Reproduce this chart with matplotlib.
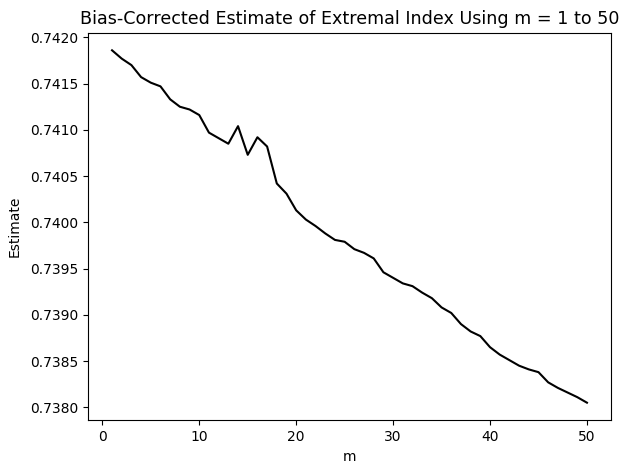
import numpy as np
import matplotlib
matplotlib.use("Agg")
import matplotlib.pyplot as plt

m = np.arange(1, 51)
estimate = [0.74186, 0.74177, 0.74170, 0.74157, 0.74151, 0.74147, 0.74133, 0.74125, 0.74122, 0.74116,
            0.74097, 0.74091, 0.74085, 0.74104, 0.74073, 0.74092, 0.74082, 0.74042, 0.74031, 0.74013,
            0.74003, 0.73996, 0.73988, 0.73981, 0.73979, 0.73971, 0.73967, 0.73961, 0.73946, 0.73940,
            0.73934, 0.73931, 0.73924, 0.73918, 0.73908, 0.73902, 0.73890, 0.73882, 0.73877, 0.73865,
            0.73857, 0.73851, 0.73845, 0.73841, 0.73838, 0.73827, 0.73821, 0.73816, 0.73811, 0.73805]

fig = plt.figure(figsize=(6.2, 4.63), dpi=100)
ax = fig.add_axes([0.1424, 0.0922, 0.8426, 0.8372])
ax.plot(m, estimate, color='k', lw=1.5)
ax.set_title('Bias-Corrected Estimate of Extremal Index Using m = 1 to 50', fontsize=12.6)
ax.set_xlabel('m')
ax.set_ylabel('Estimate', labelpad=6)
fig.savefig('out.png', dpi=100)
